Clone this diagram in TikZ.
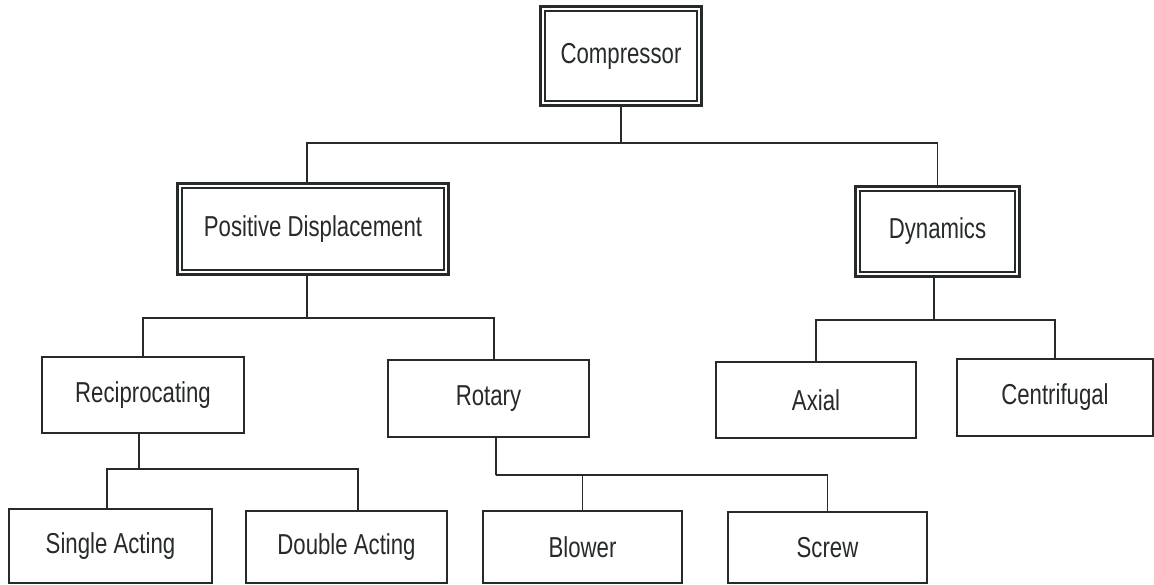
\documentclass[tikz,border=0pt]{standalone}
\usepackage{fontspec}
\setmainfont{Liberation Sans}[FakeStretch=0.77]
\newlength\pxu
\setlength\pxu{0.02cm}
\definecolor{ink}{RGB}{38,42,40}
\tikzset{
  box/.style={draw=ink, line width=0.9pt, inner sep=0pt, text=ink,
    font=\fontsize{16.4}{19}\selectfont},
  dblbox/.style={box, line width=1.8pt},
  innerline/.style={draw=ink, line width=0.9pt},
  conn/.style={draw=ink, line width=0.9pt}
}
\begin{document}
\begin{tikzpicture}[x=0.02cm,y=-0.02cm]
\useasboundingbox (0,0) rectangle (1154,585);
% level 0
\node[dblbox, minimum width=161\pxu, minimum height=99\pxu] (comp) at (621,56) {Compressor};
% level 1
\node[dblbox, minimum width=271\pxu, minimum height=91\pxu] (pd) at (313,229) {Positive Displacement};
\node[dblbox, minimum width=164\pxu, minimum height=90\pxu] (dyn) at (937.5,231.5) {Dynamics};
% level 2
\node[box, minimum width=202\pxu, minimum height=76\pxu] (rec) at (143,395) {Reciprocating};
\node[box, minimum width=201\pxu, minimum height=77\pxu] (rot) at (488.5,398.5) {Rotary};
\node[box, minimum width=200\pxu, minimum height=76\pxu] (ax) at (816,400) {Axial};
\node[box, minimum width=196\pxu, minimum height=77\pxu] (cen) at (1055,397.5) {Centrifugal};
% level 3
\node[box, minimum width=203\pxu, minimum height=74\pxu] (sa) at (110.5,546) {Single Acting};
\node[box, minimum width=201\pxu, minimum height=72\pxu] (da) at (346.5,547) {Double Acting};
\node[box, minimum width=199\pxu, minimum height=72\pxu] (bl) at (582.5,547) {Blower};
\node[box, minimum width=199\pxu, minimum height=71\pxu] (sc) at (827.5,547.5) {Screw};
% inner lines of double boxes
\foreach \n in {comp,pd,dyn}
  \draw[innerline] ([shift={(6,6)}]\n.north west) rectangle ([shift={(-6,-6)}]\n.south east);
% connectors
\coordinate (cb) at (621,143);
\draw[conn] (comp.south) -- (cb);
\draw[conn] ([xshift=-6\pxu]pd.north) |- (cb) -| (dyn.north);
\coordinate (pb) at (307,318);
\draw[conn] ([xshift=-6\pxu]pd.south) -- (pb);
\draw[conn] (rec.north) |- (pb) -| ([xshift=5.5\pxu]rot.north);
\coordinate (db) at (934,320);
\draw[conn] ([xshift=-3.5\pxu]dyn.south) -- (db);
\draw[conn] (ax.north) |- (db) -| (cen.north);
\coordinate (rb) at (139,469);
\draw[conn] ([xshift=-4\pxu]rec.south) -- (rb);
\draw[conn] ([xshift=-3.5\pxu]sa.north) |- (rb) -| ([xshift=11.5\pxu]da.north);
\coordinate (tb) at (496,475);
\draw[conn] ([xshift=7.5\pxu]rot.south) -- (tb);
\draw[conn] (tb) -| (sc.north);
\draw[conn] (bl.north) -- (bl.north |- tb);
\end{tikzpicture}
\end{document}
